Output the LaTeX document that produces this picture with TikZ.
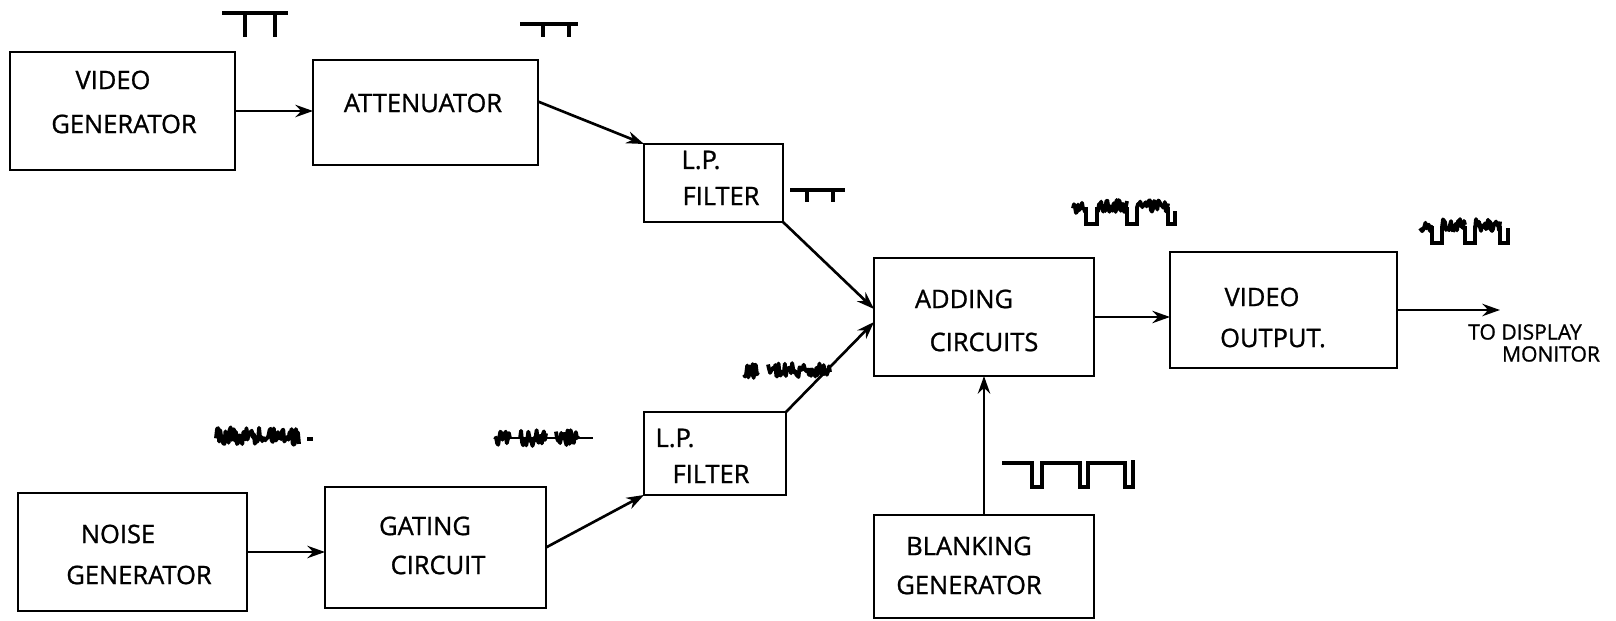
\documentclass[tikz,border=0pt]{standalone}
\usepackage{fontspec}
\setmainfont{Open Sans}[FakeBold=1]
\usetikzlibrary{arrows.meta}
\begin{document}
\begin{tikzpicture}[x=0.02cm,y=-0.02cm,
  blk/.style={draw, line width=1.6pt, inner sep=0pt, outer sep=0pt},
  lbl/.style={inner sep=0pt, font=\fontsize{14.5}{17}\selectfont},
  small/.style={inner sep=0pt, font=\fontsize{12}{14}\selectfont},
  arr/.style={line width=1.5pt, -{Stealth[length=10pt,width=7pt]}},
  wave/.style={line width=2pt, line join=miter},
  nz/.style={line width=2.2pt, line join=round}]
\fill[white] (0,0) rectangle (1616,621);
\useasboundingbox (0,0) rectangle (1616,621);
\pgfmathsetseed{7}
% blocks
\node[blk, minimum width=4.5cm, minimum height=2.36cm] (vg) at (122.5,111) {};
\node[blk, minimum width=4.5cm, minimum height=2.1cm] (att) at (425.5,112.5) {};
\node[blk, minimum width=2.78cm, minimum height=1.56cm] (lpa) at (713.5,183) {};
\node[blk, minimum width=4.4cm, minimum height=2.36cm] (add) at (984,317) {};
\node[blk, minimum width=4.54cm, minimum height=2.32cm] (vout) at (1283.5,310) {};
\node[blk, minimum width=2.84cm, minimum height=1.66cm] (lpb) at (715,453.5) {};
\node[blk, minimum width=4.58cm, minimum height=2.36cm] (ng) at (132.5,552) {};
\node[blk, minimum width=4.42cm, minimum height=2.42cm] (gc) at (435.5,547.5) {};
\node[blk, minimum width=4.4cm, minimum height=2.06cm] (bg) at (984,566.5) {};
% labels
\node[lbl] (t1) at (113,80) {VIDEO};
\node[lbl] (t2) at (124,124) {GENERATOR};
\node[lbl] (t3) at (423,103) {ATTENUATOR};
\node[lbl] (t4) at (701,160) {L.P.};
\node[lbl] (t5) at (721,196) {FILTER};
\node[lbl] (t6) at (964,299) {ADDING};
\node[lbl] (t7) at (984,342) {CIRCUITS};
\node[lbl] (t8) at (1262,297) {VIDEO};
\node[lbl] (t9) at (1273,338) {OUTPUT.};
\node[lbl] (t10) at (675,438) {L.P.};
\node[lbl] (t11) at (711,474) {FILTER};
\node[lbl] (t12) at (118,534) {NOISE};
\node[lbl] (t13) at (139,575) {GENERATOR};
\node[lbl] (t14) at (425,526) {GATING};
\node[lbl] (t15) at (438,565) {CIRCUIT};
\node[lbl] (t16) at (969,546) {BLANKING};
\node[lbl] (t17) at (969,585) {GENERATOR};
\node[small] (t18) at (1525,332) {TO DISPLAY};
\node[small] (t19) at (1551,354) {MONITOR};
% connectors
\coordinate (out) at (1500,310);
\draw[arr] (vg.east) -- (vg.east -| att.west);
\draw[arr] ([yshift=0.22cm]att.east) -- (lpa.north west);
\draw[arr] (lpa.south east) -- ([yshift=0.16cm]add.west);
\draw[arr] (lpb.north east) -- ([yshift=-0.1cm]add.west);
\draw[arr] (add.east) -- (add.east -| vout.west);
\draw[arr] (vout.east) -- (out);
\draw[arr] (gc.east) -- (lpb.south west);
\draw[arr] (ng.east) -- (ng.east -| gc.west);
\draw[arr] (bg.north) -- (add.south);
% pulse waveforms
\draw[wave] (222,13) -- (288,13) (245,13) -- (245,37) (275,13) -- (275,37);
\draw[wave] (520,24) -- (578,24) (543,24) -- (543,37) (569,24) -- (569,37);
\draw[wave] (790,190) -- (845,190) (807,190) -- (807,202) (833,190) -- (833,202);
\draw[wave] (1002,463) -- (1032,463) -- (1032,487) -- (1042,487) -- (1042,463)
  -- (1080,463) -- (1080,487) -- (1088,487) -- (1088,463)
  -- (1125,463) -- (1125,487) -- (1133,487) -- (1133,460);
% noise waveforms
\draw[nz] plot[domain=1073:1086, samples=14] (\x,{207+6*rand});
\draw[nz] plot[domain=1097:1127, samples=30] (\x,{206+6*rand});
\draw[nz] plot[domain=1137:1168, samples=30] (\x,{206+6*rand});
\draw[wave] (1086,207) -- (1086,224) -- (1097,224) -- (1097,207)
  (1127,207) -- (1127,224) -- (1137,224) -- (1137,207)
  (1168,207) -- (1168,224) -- (1175,224) -- (1175,211);
\draw[nz] plot[domain=1420:1432, samples=12] (\x,{226+6*rand});
\draw[nz] plot[domain=1442:1465, samples=24] (\x,{225+6*rand});
\draw[nz] plot[domain=1475:1500, samples=26] (\x,{225+6*rand});
\draw[wave] (1432,226) -- (1432,243) -- (1442,243) -- (1442,226)
  (1465,226) -- (1465,243) -- (1475,243) -- (1475,226)
  (1500,226) -- (1500,243) -- (1508,243) -- (1508,228);
\draw[nz] plot[domain=744:758, samples=14] (\x,{371+7*rand});
\draw[nz] plot[domain=768:830, samples=60] (\x,{370+7*rand});
\draw[nz] plot[domain=216:299, samples=80] (\x,{436+9*rand});
\draw[line width=2pt] (307,439) -- (313,439);
\draw[line width=1.2pt] (495,438) -- (593,438);
\draw[nz] plot[domain=495:510, samples=15] (\x,{438+8*rand});
\draw[nz] plot[domain=520:546, samples=26] (\x,{438+8*rand});
\draw[nz] plot[domain=556:578, samples=22] (\x,{438+8*rand});
\end{tikzpicture}
\end{document}
